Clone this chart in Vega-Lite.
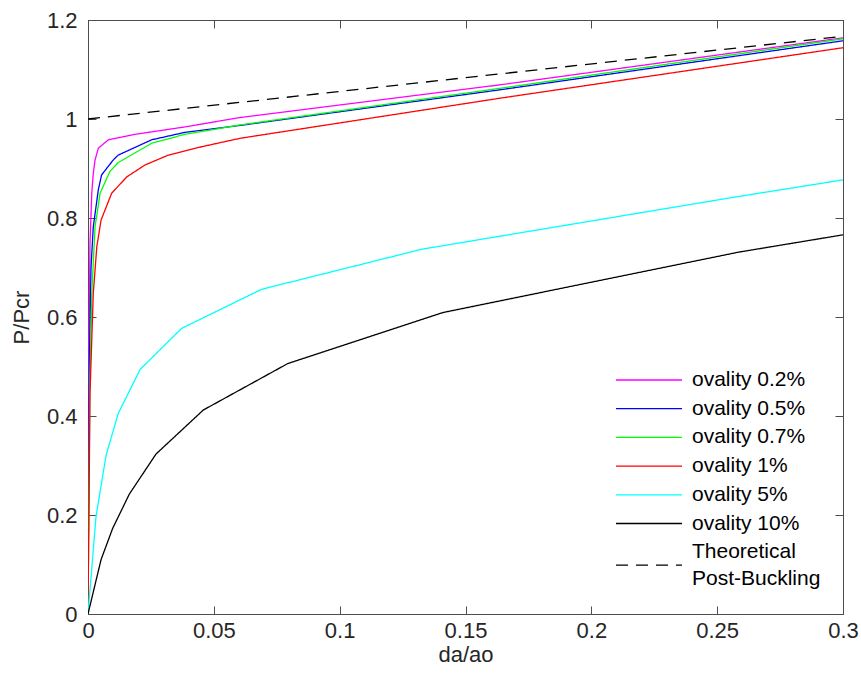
{
  "$schema": "https://vega.github.io/schema/vega-lite/v6.json",
  "width": 755,
  "height": 594,
  "autosize": {"type": "none"},
  "padding": {"left": 88, "top": 20, "right": 18, "bottom": 73},
  "background": "white",
  "config": {
    "font": "Liberation Sans",
    "view": {"stroke": "#4d4d4d", "strokeWidth": 1},
    "axis": {
      "domainColor": "#4d4d4d",
      "tickColor": "#4d4d4d",
      "labelColor": "#262626",
      "titleColor": "#262626",
      "labelFont": "Liberation Sans",
      "titleFont": "Liberation Sans",
      "labelFontSize": 22,
      "titleFontSize": 22,
      "titleFontWeight": "normal",
      "grid": false
    }
  },
  "data": {
    "values": [
      {"s": "ovality 0.2%", "x": 0, "y": 0},
      {"s": "ovality 0.2%", "x": 0.0003, "y": 0.5},
      {"s": "ovality 0.2%", "x": 0.0008, "y": 0.75},
      {"s": "ovality 0.2%", "x": 0.0015, "y": 0.85},
      {"s": "ovality 0.2%", "x": 0.0021, "y": 0.89},
      {"s": "ovality 0.2%", "x": 0.0028, "y": 0.917},
      {"s": "ovality 0.2%", "x": 0.0041, "y": 0.941},
      {"s": "ovality 0.2%", "x": 0.0081, "y": 0.958},
      {"s": "ovality 0.2%", "x": 0.0187, "y": 0.969},
      {"s": "ovality 0.2%", "x": 0.0385, "y": 0.984},
      {"s": "ovality 0.2%", "x": 0.0604, "y": 1.003},
      {"s": "ovality 0.2%", "x": 0.1637, "y": 1.069},
      {"s": "ovality 0.2%", "x": 0.3, "y": 1.164},

      {"s": "ovality 0.5%", "x": 0, "y": 0},
      {"s": "ovality 0.5%", "x": 0.0005, "y": 0.5},
      {"s": "ovality 0.5%", "x": 0.0012, "y": 0.7},
      {"s": "ovality 0.5%", "x": 0.0021, "y": 0.782},
      {"s": "ovality 0.5%", "x": 0.0041, "y": 0.857},
      {"s": "ovality 0.5%", "x": 0.0054, "y": 0.887},
      {"s": "ovality 0.5%", "x": 0.010, "y": 0.917},
      {"s": "ovality 0.5%", "x": 0.012, "y": 0.927},
      {"s": "ovality 0.5%", "x": 0.0253, "y": 0.958},
      {"s": "ovality 0.5%", "x": 0.0385, "y": 0.973},
      {"s": "ovality 0.5%", "x": 0.0604, "y": 0.987},
      {"s": "ovality 0.5%", "x": 0.1637, "y": 1.059},
      {"s": "ovality 0.5%", "x": 0.3, "y": 1.158},

      {"s": "ovality 0.7%", "x": 0, "y": 0},
      {"s": "ovality 0.7%", "x": 0.0007, "y": 0.45},
      {"s": "ovality 0.7%", "x": 0.0015, "y": 0.648},
      {"s": "ovality 0.7%", "x": 0.0028, "y": 0.782},
      {"s": "ovality 0.7%", "x": 0.0048, "y": 0.85},
      {"s": "ovality 0.7%", "x": 0.0087, "y": 0.894},
      {"s": "ovality 0.7%", "x": 0.012, "y": 0.912},
      {"s": "ovality 0.7%", "x": 0.0253, "y": 0.951},
      {"s": "ovality 0.7%", "x": 0.0385, "y": 0.969},
      {"s": "ovality 0.7%", "x": 0.0604, "y": 0.988},
      {"s": "ovality 0.7%", "x": 0.1637, "y": 1.062},
      {"s": "ovality 0.7%", "x": 0.3, "y": 1.162},

      {"s": "ovality 1%", "x": 0, "y": 0},
      {"s": "ovality 1%", "x": 0.0008, "y": 0.446},
      {"s": "ovality 1%", "x": 0.0021, "y": 0.648},
      {"s": "ovality 1%", "x": 0.0035, "y": 0.742},
      {"s": "ovality 1%", "x": 0.0052, "y": 0.796},
      {"s": "ovality 1%", "x": 0.0094, "y": 0.85},
      {"s": "ovality 1%", "x": 0.0154, "y": 0.883},
      {"s": "ovality 1%", "x": 0.0226, "y": 0.907},
      {"s": "ovality 1%", "x": 0.0319, "y": 0.927},
      {"s": "ovality 1%", "x": 0.0452, "y": 0.944},
      {"s": "ovality 1%", "x": 0.0604, "y": 0.961},
      {"s": "ovality 1%", "x": 0.1637, "y": 1.042},
      {"s": "ovality 1%", "x": 0.3, "y": 1.144},

      {"s": "ovality 5%", "x": 0, "y": 0},
      {"s": "ovality 5%", "x": 0.0032, "y": 0.197},
      {"s": "ovality 5%", "x": 0.0072, "y": 0.321},
      {"s": "ovality 5%", "x": 0.012, "y": 0.405},
      {"s": "ovality 5%", "x": 0.0207, "y": 0.494},
      {"s": "ovality 5%", "x": 0.0372, "y": 0.577},
      {"s": "ovality 5%", "x": 0.069, "y": 0.656},
      {"s": "ovality 5%", "x": 0.1327, "y": 0.737},
      {"s": "ovality 5%", "x": 0.2567, "y": 0.842},
      {"s": "ovality 5%", "x": 0.3, "y": 0.877},

      {"s": "ovality 10%", "x": 0, "y": 0},
      {"s": "ovality 10%", "x": 0.0052, "y": 0.11},
      {"s": "ovality 10%", "x": 0.0098, "y": 0.173},
      {"s": "ovality 10%", "x": 0.0164, "y": 0.242},
      {"s": "ovality 10%", "x": 0.027, "y": 0.323},
      {"s": "ovality 10%", "x": 0.0458, "y": 0.412},
      {"s": "ovality 10%", "x": 0.0794, "y": 0.506},
      {"s": "ovality 10%", "x": 0.141, "y": 0.609},
      {"s": "ovality 10%", "x": 0.2585, "y": 0.731},
      {"s": "ovality 10%", "x": 0.3, "y": 0.766},

      {"s": "Theoretical Post-Buckling", "x": 0, "y": 1.0},
      {"s": "Theoretical Post-Buckling", "x": 0.3, "y": 1.167}
    ]
  },
  "layer": [
    {
      "mark": {"type": "line", "strokeWidth": 1.3, "clip": true},
      "encoding": {
        "x": {
          "field": "x", "type": "quantitative",
          "scale": {"domain": [0, 0.3], "nice": false, "zero": false},
          "axis": {
            "title": "da/ao", "values": [0, 0.05, 0.1, 0.15, 0.2, 0.25, 0.3],
            "tickSize": -8, "labelPadding": 14, "labelFlush": false,
            "titleX": 377.5, "titleY": 40, "titleBaseline": "middle",
            "labelExpr": "datum.value === 0 ? '0' : format(datum.value, '.2~f')"
          }
        },
        "y": {
          "field": "y", "type": "quantitative",
          "scale": {"domain": [0, 1.2], "nice": false},
          "axis": {
            "title": "P/Pcr", "values": [0, 0.2, 0.4, 0.6, 0.8, 1, 1.2],
            "tickSize": -8, "labelPadding": 19, "labelFlush": false,
            "titleX": -67, "titleY": 297, "titleBaseline": "middle", "titleAngle": -90,
            "labelExpr": "datum.value === 0 ? '0' : datum.value === 1 ? '1' : format(datum.value, '.1f')"
          }
        },
        "color": {
          "field": "s", "type": "nominal",
          "scale": {
            "domain": ["ovality 0.2%", "ovality 0.5%", "ovality 0.7%", "ovality 1%", "ovality 5%", "ovality 10%", "Theoretical Post-Buckling"],
            "range": ["#ff00ff", "#0000ff", "#00ff00", "#ff0000", "#00ffff", "#000000", "#000000"]
          },
          "legend": {
            "title": null,
            "orient": "none",
            "legendX": 549,
            "legendY": 348,
            "symbolType": "M-3,0H3",
            "symbolSize": 484,
            "symbolStrokeWidth": 1.3,
            "labelFont": "Liberation Sans",
            "labelFontSize": 21,
            "labelColor": "#000000",
            "labelOffset": 31,
            "rowPadding": 6.7,
            "labelLimit": 300,
            "labelExpr": "datum.label === 'Theoretical Post-Buckling' ? ['Theoretical', 'Post-Buckling'] : datum.label",
            "encode": {
              "labels": {
                "update": {
                  "lineHeight": {"value": 27},
                  "dy": {"signal": "datum.label === 'Theoretical Post-Buckling' ? -13.5 : 0"}
                }
              }
            }
          }
        },
        "strokeDash": {
          "field": "s", "type": "nominal",
          "scale": {
            "domain": ["ovality 0.2%", "ovality 0.5%", "ovality 0.7%", "ovality 1%", "ovality 5%", "ovality 10%", "Theoretical Post-Buckling"],
            "range": [[1, 0], [1, 0], [1, 0], [1, 0], [1, 0], [1, 0], [12, 8]]
          },
          "legend": null
        },
        "order": {"field": "x", "type": "quantitative"}
      }
    },
    {
      "mark": {"type": "line", "opacity": 0},
      "encoding": {
        "x": {"field": "x", "type": "quantitative", "axis": {"orient": "top", "values": [0, 0.05, 0.1, 0.15, 0.2, 0.25, 0.3], "labels": false, "title": null, "domain": true, "tickSize": -8}},
        "y": {"field": "y", "type": "quantitative", "axis": {"orient": "right", "values": [0, 0.2, 0.4, 0.6, 0.8, 1, 1.2], "labels": false, "title": null, "domain": true, "tickSize": -8}}
      }
    }
  ],
  "resolve": {"axis": {"x": "independent", "y": "independent"}}
}
